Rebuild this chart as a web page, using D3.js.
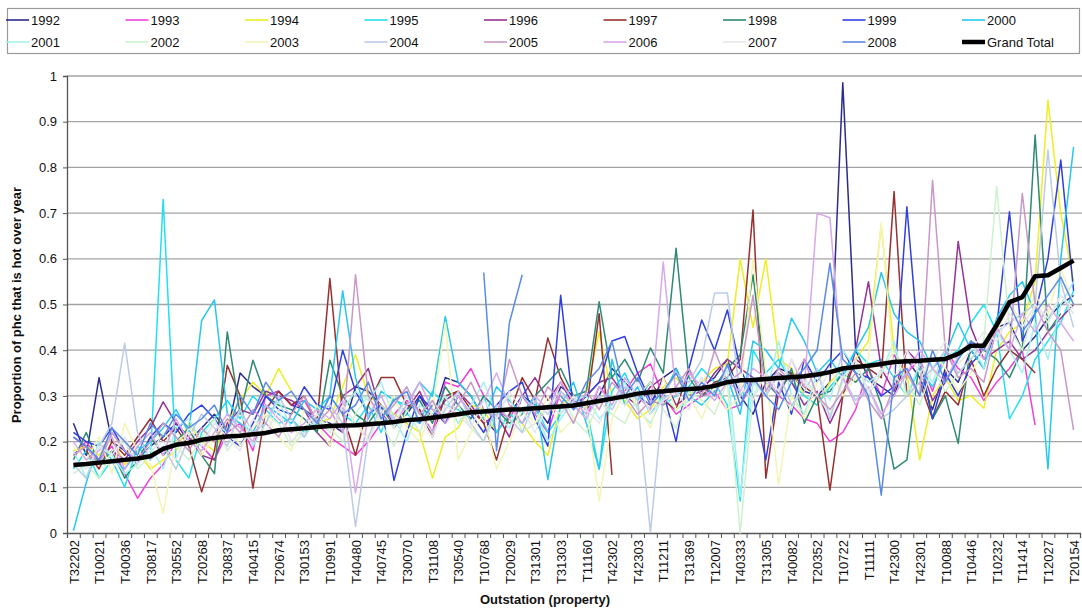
<!DOCTYPE html>
<html>
<head>
<meta charset="utf-8">
<script src="https://cdn.jsdelivr.net/npm/d3@7"></script>
<style>
  html, body { margin: 0; padding: 0; background: #fff; }
  svg { display: block; font-family: Arial, "Liberation Sans", sans-serif; }
</style>
</head>
<body>
<svg id="chart" width="1082" height="613"></svg>
<script>
// Outstation labels shown on the x axis (every second station is labelled)
const tickLabels = ["T32202","T10021","T40036","T30817","T30552","T20268","T30837","T40415","T20674","T30153",
  "T10991","T40480","T40745","T30070","T31108","T30540","T10768","T20029","T31301","T31303",
  "T11160","T42302","T42303","T11211","T31369","T12007","T40333","T31305","T40082","T20352",
  "T10722","T11111","T42300","T42301","T10088","T10446","T10232","T11414","T12027","T20154"];
const stationCount = 79;

const years = ["1992","1993","1994","1995","1996","1997","1998","1999","2000",
  "2001","2002","2003","2004","2005","2006","2007","2008"];

const colors = ["#2b2b8c","#f040d8","#eeee22","#22e0ee","#963396","#973030","#2e8a72","#3040e0","#26c8ee",
  "#a4f0f0","#cdf2cd","#f4f4b4","#bccbe6","#c898c8","#d8a8ec","#e6e6ec","#5a8ae8"];

// Proportion of phc that is hot, per station, for each year
const v1992 = [.24,.17,.34,.20,.18,.16,.19,.21,.24,.20, .23,.26,.22,.35,.32,.30,.31,.28,.27,.25,
  .24,.22,.32,.31,.28,.24,.26,.30,.25,.34, .33,.30,.25,.22,.26,.30,.28,.24,.32,.30,
  .27,.30,.36,.33,.30,.28,.34,.36,.30,.32, .34,.38,.30,.26,.33,.36,.35,.31,.30,.33,
  .985,.40,.34,.32,.30,.38,.34,.27,.36,.33, .40,.36,.45,.46,.40,.43,.47,.50,.52];
const v1993 = [.17,.20,.16,.19,.13,.076,.12,.15,.20,.22, .19,.16,.22,.24,.18,.30,.31,.28,.29,.24,
  .21,.19,.17,.20,.24,.26,.29,.27,.22,.33, .32,.36,.30,.27,.25,.30,.26,.22,.31,.28,
  .25,.32,.29,.31,.35,.37,.30,.26,.28,.30, .31,.27,.28,.33,.34,.30,.28,.25,.24,.20,
  .22,.27,.36,.30,.39,.35,.38,.31,.40,.36, .34,.29,.33,.36,.40,.236,null,null,null];
const v1994 = [.18,.19,.17,.21,.15,.18,.14,.16,.18,.24, .20,.18,.24,.29,.33,.30,.36,.31,.27,.24,
  .25,.32,.39,.30,.28,.26,.24,.22,.12,.21, .23,.28,.27,.22,.26,.24,.20,.17,.28,.30,
  .31,.44,.30,.29,.25,.27,.32,.34,.30,.33, .36,.37,.60,.45,.60,.38,.36,.30,.28,.33,
  .36,.38,.42,.674,.40,.35,.16,.30,.34,.29, .30,.273,.40,.44,.46,.55,.947,.70,.55];
const v1995 = [.14,.18,.12,.16,.10,.19,.16,.73,.16,.12, .22,.25,.29,.25,.30,.27,.24,.25,.22,.24,
  .30,.26,.24,.28,.22,.30,.26,.24,.31,.28, .27,.25,.30,.22,.26,.24,.28,.22,.26,.30,
  .27,.14,.31,.35,.29,.33,.28,.30,.32,.36, .33,.28,.07,.40,.35,.38,.33,.30,.28,.32,
  .35,.40,.37,.38,.34,.30,.36,.32,.38,.40, .46,.50,.44,.25,.30,.38,.42,.46,.53];
const v1996 = [.21,.19,.15,.18,.16,.20,.23,.287,.24,.21, .17,.16,.24,.27,.26,.31,.30,.29,.27,.22,
  .19,.30,.32,.36,.26,.24,.27,.31,.25,.29, .31,.28,.24,.26,.21,.30,.34,.29,.33,.28,
  .30,.33,.34,.30,.28,.32,.34,.28,.30,.31, .35,.38,.36,.34,.30,.35,.33,.28,.31,.24,
  .30,.40,.55,.36,.31,.40,.37,.29,.33,.638, .45,.38,.40,.42,.38,.40,.44,.47,.50];
const v1997 = [null,.18,.14,.20,.17,.21,.25,.20,.23,.19, .09,.18,.367,.30,.098,.27,.31,.28,.30,.24,
  .557,.26,.17,.28,.34,.34,.28,.27,.21,.30, .31,.27,.24,.16,.26,.34,.29,.427,.34,.29,
  .27,.48,.127,null,.30,.33,.29,.27,.36,.30, .33,.34,.38,.707,.12,.31,.35,.32,.30,.094,
  .30,.38,.36,.34,.747,.30,.33,.25,.31,.28, .38,.30,.36,.40,.38,.35,null,null,null];
const v1998 = [.16,.22,.15,.18,.12,.16,.21,.17,.20,.23, .17,.13,.44,.26,.378,.30,.28,.27,.25,.22,
  .378,.30,.26,.24,.28,.23,.27,.29,.24,.32, .28,.25,.30,.27,.24,.26,.30,.33,.36,.30,
  .31,.506,.34,.38,.33,.405,.35,.623,.34,.30, .32,.36,.39,.565,.33,.30,.36,.24,.30,.31,
  .35,.33,.36,.28,.14,.16,.38,.25,.30,.196, .42,.40,.38,.34,.40,.871,.44,.48,null];
const v1999 = [.22,.20,.19,.23,.18,.15,.21,.24,.22,.26, .28,.25,.21,.19,.24,.30,.27,.26,.32,.28,
  .27,.40,.31,.26,.28,.115,.22,.30,.27,.24, .30,.26,.22,.28,.31,.33,.25,.19,.52,.27,
  .30,.33,.42,.43,.35,.29,.31,.20,.36,.466, .40,.488,.36,.30,.16,.33,.26,.38,.33,.37,
  .40,.35,.34,.30,.32,.714,.38,.25,.35,.30, .37,.40,.45,.703,.42,.48,.60,.816,.53];
const v2000 = [.005,.11,.20,.16,.14,.18,.20,.23,.27,.22, .465,.51,.26,.24,.22,.28,.26,.24,.29,.27,
  .30,.53,.34,.25,.31,.29,.28,.33,.30,.474, .33,.30,.25,.32,.29,.26,.30,.117,.28,.33,
  .24,.14,.38,.28,.32,.26,.30,.36,.30,.28, .31,.34,.26,.42,.40,.36,.47,.42,.35,.38,
  .34,.40,.45,.57,.48,.44,.42,.36,.39,.46, .40,.36,.47,.52,.55,.48,.14,.60,.845];
const v2001 = [.18,.12,.20,.17,.13,.15,.19,.14,.23,.25, .20,.24,.22,.27,.19,.24,.29,.23,.21,.25,
  .22,.27,.31,.29,.33,.25,.20,.28,.26,.30, .24,.28,.33,.26,.23,.30,.27,.20,.25,.29,
  .30,.25,.28,.33,.27,.24,.30,.27,.29,.34, .30,.36,.08,.33,.30,.42,.30,.26,.35,.29,
  .40,.36,.33,.35,.42,.30,.37,.33,.40,.38, .42,.36,.44,.40,.35,.46,.38,.50,.55];
const v2002 = [.13,.15,.12,.18,.20,.14,.17,.22,.19,.16, .21,.25,.18,.22,.20,.26,.24,.19,.22,.28,
  .23,.20,.26,.30,.24,.19,.27,.22,.29,.25, .28,.23,.20,.26,.30,.22,.24,.28,.31,.25,
  .22,.29,.26,.24,.30,.33,.27,.23,.31,.29, .26,.33,.00,.30,.35,.31,.27,.34,.30,.26,
  .33,.38,.30,.35,.40,.33,.28,.36,.31,.35, .38,.42,.758,.45,.40,.50,.46,.52,.48];
const v2003 = [.19,.16,.21,.13,.24,.18,.15,.043,.20,.22, .17,.21,.25,.19,.23,.26,.21,.18,.27,.24,
  .19,.28,.24,.21,.26,.30,.23,.20,.27,.46, .16,.22,.26,.14,.20,.27,.24,.30,.22,.25,
  .28,.07,.25,.31,.28,.23,.34,.27,.30,.25, .32,.27,.30,.60,.35,.105,.30,.25,.33,.36,
  .30,.34,.38,.68,.35,.30,.33,.40,.36,.31, .35,.40,.44,.50,.46,.52,.48,.58,.50];
const v2004 = [.15,.12,.19,.24,.415,.22,.16,.19,.14,.21, .26,.23,.19,.27,.22,.24,.30,.25,.21,.26,
  .28,.24,.014,.21,.28,.25,.30,.26,.22,.27, .31,.24,.20,.28,.25,.22,.29,.26,.31,.28,
  .25,.30,.27,.32,.29,.001,.30,.35,.33,.38, .525,.525,.30,.34,.30,.35,.28,.31,.36,.25,
  .34,.29,.32,.25,.27,.30,.33,.36,.40,.35, .38,.42,.44,.46,.48,.50,.838,.55,.45];
const v2005 = [.17,.19,.15,.22,.18,.16,.20,.24,.21,.18, .23,.20,.25,.22,.27,.24,.21,.26,.30,.24,
  .27,.22,.565,.30,.25,.28,.32,.26,.29,.24, .28,.33,.27,.25,.38,.30,.26,.32,.29,.24,
  .31,.27,.33,.30,.26,.29,.28,.32,.36,.30, .40,.33,.35,.52,.31,.36,.33,.38,.30,.27,
  .31,.35,.29,.25,.32,.35,.30,.772,.40,.34, .36,.33,.45,.40,.743,.50,.44,.40,.225];
const v2006 = [.20,.16,.18,.21,.14,.19,.22,.17,.25,.20, .18,.22,.26,.23,.20,.28,.25,.22,.24,.27,
  .25,.29,.088,.26,.30,.24,.28,.33,.27,.25, .30,.26,.29,.35,.28,.24,.30,.27,.33,.29,
  .26,.32,.28,.34,.30,.27,.593,.30,.35,.32, .29,.33,.31,.36,.34,.30,.38,.32,.70,.69,
  .34,.28,.32,.26,.30,.35,.40,.36,.33,.39, .42,.38,.45,.40,.48,.44,.50,.46,.42];
const v2007 = [.16,.14,.19,.17,.21,.15,.18,.20,.16,.23, .19,.24,.21,.18,.25,.22,.27,.20,.23,.26,
  .22,.28,.24,.20,.27,.23,.30,.25,.21,.28, .26,.23,.29,.25,.31,.27,.22,.28,.26,.30,
  .27,.24,.30,.28,.33,.26,.29,.31,.27,.34, .30,.36,.32,.29,.35,.31,.38,.33,.30,.36,
  .34,.38,.31,.36,.33,.40,.35,.38,.42,.37, .40,.44,.42,.48,.45,.50,.47,.52,.49];
const v2008 = [.21,.19,.16,.23,.20,.17,.24,.21,.26,.23, .25,.28,.22,.30,.26,.33,.29,.31,.27,.24,
  .30,.26,.28,.33,.25,.29,.31,.24,.28,null, null,null,.57,.18,.46,.565,null,null,.30,.27,
  .33,.36,.42,.30,.34,.28,.31,.35,.29,.33, .30,.37,.28,.34,.30,.27,.33,.36,.40,.59,
  .38,.35,.30,.083,.34,.36,.30,.40,.33,.38, .42,.40,.46,.50,.44,.48,.52,.56,.50];

const grandTotal = [.149,.151,.154,.157,.160,.163,.168,.184,.193,.197, .204,.208,.211,.213,.216,.219,.225,.227,.229,.232,
  .234,.235,.236,.238,.240,.243,.247,.249,.252,.256, .260,.264,.266,.268,.270,.271,.273,.275,.277,.279,
  .284,.289,.294,.299,.305,.308,.310,.313,.315,.317, .322,.330,.334,.335,.337,.339,.341,.343,.347,.352,
  .360,.363,.366,.370,.374,.376,.377,.379,.381,.392, .410,.410,.455,.505,.516,.562,.564,.580,.596];

const yearValues = [v1992,v1993,v1994,v1995,v1996,v1997,v1998,v1999,v2000,
  v2001,v2002,v2003,v2004,v2005,v2006,v2007,v2008];

const yTicks = [0,0.1,0.2,0.3,0.4,0.5,0.6,0.7,0.8,0.9,1];

const svg = d3.select("#chart");
const W = 1082, H = 613;
svg.append("rect").attr("width", W).attr("height", H).attr("fill", "#fff");

const plot = { left: 67, right: 1080, top: 76, bottom: 533 };

const x = d3.scaleLinear().domain([0, stationCount]).range([plot.left, plot.right]);
const y = d3.scaleLinear().domain([0, 1]).range([plot.bottom, plot.top]);

// horizontal gridlines
svg.append("g")
  .selectAll("line")
  .data(yTicks.filter(d => d > 0))
  .join("line")
  .attr("x1", plot.left).attr("x2", W)
  .attr("y1", d => y(d)).attr("y2", d => y(d))
  .attr("stroke", "#a4a4a4").attr("stroke-width", 1.3);

// y axis
const yAxis = svg.append("g")
  .attr("transform", `translate(${plot.left},0)`)
  .call(d3.axisLeft(y).tickValues(yTicks).tickSize(4).tickPadding(6)
    .tickFormat(d => d3.format("")(+d.toFixed(1))));
yAxis.select(".domain").attr("stroke", "#555").attr("stroke-width", 1.3);
yAxis.selectAll(".tick line").attr("stroke", "#555");
yAxis.selectAll("text").attr("font-size", 13).attr("fill", "#111");

// x axis: tick marks between stations
const xTicks = svg.append("g")
  .attr("transform", `translate(0,${plot.bottom})`)
  .call(d3.axisBottom(x).tickValues(d3.range(0, stationCount + 1)).tickSize(5).tickFormat(""));
xTicks.select(".domain").attr("stroke", "#555").attr("stroke-width", 1.3);
xTicks.selectAll(".tick line").attr("stroke", "#555");

// x axis: labels on every second station
const xLabels = svg.append("g")
  .attr("transform", `translate(0,${plot.bottom})`)
  .call(d3.axisBottom(x).tickValues(d3.range(0, stationCount, 2).map(i => i + 0.5))
    .tickSize(0).tickFormat((d, k) => tickLabels[k]));
xLabels.select(".domain").remove();
xLabels.selectAll("text")
  .attr("font-size", 13).attr("fill", "#111")
  .attr("transform", "rotate(-90)")
  .attr("text-anchor", "end")
  .attr("x", -7).attr("y", 0).attr("dy", "0.36em");

// one line per year, then the grand total on top
const series = svg.append("g").attr("fill", "none").attr("stroke-linejoin", "round");
const yearLine = d3.line().defined(d => d != null).x((d, i) => x(i + 0.5)).y(d => y(d));
yearValues.forEach((vals, k) => {
  series.append("path")
    .attr("d", yearLine(vals))
    .attr("stroke", colors[k])
    .attr("stroke-width", 1.5);
});

series.append("path")
  .attr("d", d3.line().x((d, i) => x(i + 0.5)).y(d => y(d))(grandTotal))
  .attr("stroke", "#000")
  .attr("stroke-width", 4.5);

// axis titles
svg.append("text")
  .attr("x", 545).attr("y", 604)
  .attr("text-anchor", "middle")
  .attr("font-size", 13).attr("font-weight", "bold").attr("fill", "#111")
  .text("Outstation (property)");

svg.append("text")
  .attr("transform", "translate(21,305) rotate(-90)")
  .attr("text-anchor", "middle")
  .attr("font-size", 13).attr("font-weight", "bold").attr("fill", "#111")
  .text("Proportion of phc that is hot over year");

// legend
const legend = svg.append("g");
legend.append("rect")
  .attr("x", 7.5).attr("y", 8.5).attr("width", 1072).attr("height", 45)
  .attr("fill", "#fff").attr("stroke", "#9a9a9a").attr("stroke-width", 1.2);

const legendItems = years.map((yr, k) => ({ label: yr, color: colors[k], width: 1.6 }))
  .concat([{ label: "Grand Total", color: "#000", width: 4.5 }]);

legendItems.forEach((item, k) => {
  const col = k % 9, row = Math.floor(k / 9);
  const tx = 31 + col * 119.5;
  const ty = 20 + row * 22;
  legend.append("line")
    .attr("x1", tx - 25).attr("x2", tx - 2)
    .attr("y1", ty).attr("y2", ty)
    .attr("stroke", item.color).attr("stroke-width", item.width);
  legend.append("text")
    .attr("x", tx).attr("y", ty).attr("dy", "0.36em")
    .attr("font-size", 13).attr("fill", "#111")
    .text(item.label);
});
</script>
</body>
</html>
